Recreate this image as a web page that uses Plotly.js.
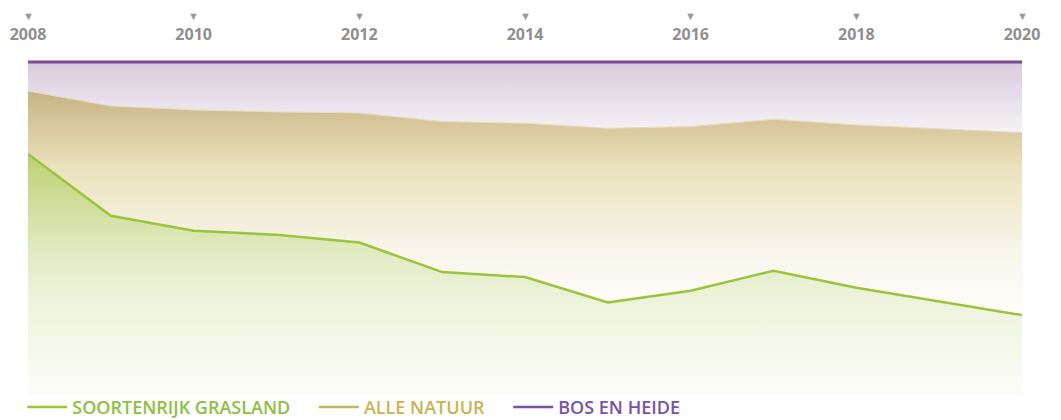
<!DOCTYPE html>
<html>
<head>
<meta charset="utf-8">
<script src="https://cdn.plot.ly/plotly-3.0.1.min.js"></script>
<style>html,body{margin:0;padding:0;background:#fff;}#chart{width:1061px;height:420px;}</style>
</head>
<body>
<div id="chart"></div>
<script>
const years = [2008,2009,2010,2011,2012,2013,2014,2015,2016,2017,2018,2019,2020];
const bosEnHeide = [100,100,100,100,100,100,100,100,99.8,99.85,100,100,100];
const alleNatuur = [91.3,86.8,85.6,85.0,84.7,82.1,81.6,80.1,80.6,82.8,81.1,80.0,78.8];
const soortenrijkGrasland = [72.4,53.8,49.3,48.1,45.8,36.9,35.4,27.8,31.3,37.3,32.2,28.1,24.0];
const tickYears = [2008,2010,2012,2014,2016,2018,2020];
const names = ['SOORTENRIJK GRASLAND','ALLE NATUUR','BOS EN HEIDE'];

const pad = '&nbsp;&nbsp;&nbsp;&nbsp;';
const traces = [
  {x: years, y: bosEnHeide, type:'scatter', mode:'lines', fill:'tozeroy',
   line:{color:'#7b4a8f', width:3}, showlegend:false, hoverinfo:'skip',
   fillgradient:{type:'vertical', start:79, stop:100,
     colorscale:[[0,'#f6f2f6'],[1,'#d9cadd']]}},
  {x: years, y: alleNatuur, type:'scatter', mode:'lines', fill:'tozeroy',
   line:{color:'#e6dcc0', width:1}, showlegend:false, hoverinfo:'skip',
   fillgradient:{type:'vertical', start:20, stop:92,
     colorscale:[[0,'#ffffff'],[0.33,'#f8f5ea'],[0.66,'#ebe3bf'],[0.83,'#d9ca9f'],[1,'#c6b283']]}},
  {x: years, y: soortenrijkGrasland, type:'scatter', mode:'lines', fill:'tozeroy',
   line:{color:'#9bc43a', width:2.5}, showlegend:false, hoverinfo:'skip',
   fillgradient:{type:'vertical', start:0, stop:73,
     colorscale:[[0,'#fcfdf9'],[0.39,'#edf3dc'],[0.6,'#e0eac0'],[1,'#bdd071']]}},
  {x:[null], y:[null], type:'scatter', mode:'lines', line:{color:'#9bc43a', width:2.5},
   name:'<span style="color:#8dc03f">'+names[0]+'</span>'+pad},
  {x:[null], y:[null], type:'scatter', mode:'lines', line:{color:'#c9b45a', width:2.5},
   name:'<span style="color:#c9b44f">'+names[1]+'</span>'+pad},
  {x:[null], y:[null], type:'scatter', mode:'lines', line:{color:'#7a52a3', width:2.5},
   name:'<span style="color:#7a52a3">'+names[2]+'</span>'}
];

const annotations = tickYears.map(yr => ({
  x: yr, xref:'x', y: 1.1, yref:'paper', text:'▼', showarrow:false,
  font:{size:11, color:'#999999'}, xanchor:'center', yanchor:'middle'
}));

const layout = {
  width:1061, height:420,
  margin:{l:28, r:39, t:50, b:25, autoexpand:false},
  paper_bgcolor:'#ffffff', plot_bgcolor:'#ffffff',
  font:{family:'Open Sans, sans-serif'},
  xaxis:{range:[2008,2020], side:'top', tickvals:tickYears, ticktext:tickYears.map(String),
    showgrid:false, zeroline:false, showline:false, ticks:'outside', ticklen:3,
    tickcolor:'rgba(0,0,0,0)', automargin:false,
    tickfont:{family:'Open Sans, sans-serif', size:16, color:'#8f8f8f', weight:700}},
  yaxis:{range:[0,103.6], showgrid:false, zeroline:false, showline:false, showticklabels:false, ticks:''},
  showlegend:true,
  legend:{orientation:'h', xref:'container', x:0.021, xanchor:'left', yref:'container', y:0.03, yanchor:'middle',
    font:{family:'Open Sans, sans-serif', size:18, weight:600}, itemwidth:40,
    bgcolor:'rgba(0,0,0,0)', tracegroupgap:0},
  annotations: annotations
};

Plotly.newPlot('chart', traces, layout, {displayModeBar:false, staticPlot:true});
</script>
</body>
</html>
